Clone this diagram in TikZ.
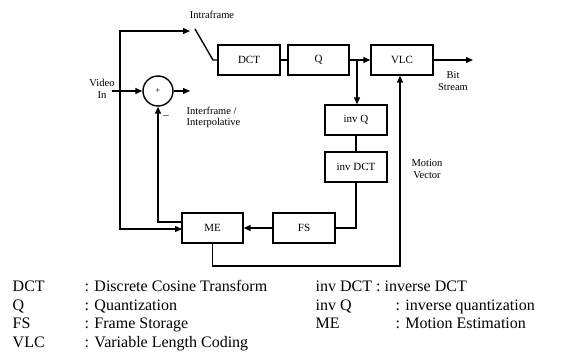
\documentclass[tikz,border=0pt]{standalone}
\usepackage{fontspec}
\setmainfont{Liberation Serif}
\usetikzlibrary{arrows.meta}
\begin{document}
\begin{tikzpicture}[x=1pt,y=-1pt, line width=1.4pt,
  blk/.style={draw, minimum width=62pt, minimum height=30pt, inner sep=0pt, font=\fontsize{11}{12}\selectfont},
  arr/.style={-{Triangle[length=7pt,width=6pt]}},
  lbl/.style={font=\fontsize{10.5}{11.5}\selectfont, align=center, inner sep=0pt},
  leg/.style={font=\fontsize{16}{18}\selectfont, anchor=base west, inner sep=0pt}]
\useasboundingbox (0,0) rectangle (568,358);
% blocks
\node[blk] (dct) at (249,60) {DCT};
\node[blk, minimum width=61pt] (q) at (318.5,60) {Q};
\node[blk] (vlc) at (402,60) {VLC};
\node[blk] (iq) at (356,120) {inv Q};
\node[blk] (idct) at (356,167) {inv DCT};
\node[blk] (fs) at (304,228) {FS};
\node[blk, minimum width=61pt] (me) at (212.5,228) {ME};
\node[circle, draw, minimum size=30pt, inner sep=0pt, font=\fontsize{9}{10}\selectfont] (sum) at (158,91) {+};
% coordinates
\coordinate (jn) at (120,91);
\coordinate (tip) at (190,31);
\coordinate (sw1) at (195,29);
\coordinate (sw2) at (213,60);
\coordinate (vin) at (112,91);
\coordinate (sout) at (190,91);
\coordinate (br) at (357,60);
\coordinate (bs) at (473,60);
\coordinate (mvb) at (400,266);
\coordinate (fb) at (158,222);
\coordinate (inme) at (182,229);
% connectors
\draw[arr] (jn) |- (tip);
\draw[arr] (jn) |- (inme);
\draw[arr] (vin) -- (sum.west);
\draw[arr] (sum.east) -- (sout);
\draw (sw1) -- (sw2) -- (dct.west);
\draw (dct) -- (q);
\draw[arr] (q) -- (vlc);
\draw[arr] (br) -- (br |- iq.north);
\draw (iq) -- (idct);
\draw (idct.south) |- (fs.east);
\draw[arr] (fs) -- (me);
\draw[arr] (me.west |- fb) -| (sum.south);
\draw[arr] (me.south) |- (mvb) -- (mvb |- vlc.south);
\draw[arr] (vlc) -- (bs);
% labels
\node[lbl] (lintra) at (212,15) {Intraframe};
\node[lbl] (lvin) at (102,89) {Video\\In};
\node[lbl, anchor=north west, align=left] (linter) at (186,106) {Interframe /\\Interpolative};
\node[lbl, font=\fontsize{11}{11}\selectfont] (lminus) at (166,117) {--};
\node[lbl] (lbit) at (453,81) {Bit\\Stream};
\node[lbl] (lmv) at (427,169) {Motion\\Vector};
% legend
\node[leg] (k1) at (12,291) {DCT};
\node[leg] (v1) at (84,291) {: Discrete Cosine Transform};
\node[leg] (k2) at (12,310) {Q};
\node[leg] (v2) at (84,310) {: Quantization};
\node[leg] (k3) at (12,329) {FS};
\node[leg] (v3) at (84,329) {: Frame Storage};
\node[leg] (k4) at (12,348) {VLC};
\node[leg] (v4) at (84,348) {: Variable Length Coding};
\node[leg] (k5) at (315,291) {inv DCT : inverse DCT};
\node[leg] (k6) at (315,310) {inv Q};
\node[leg] (v6) at (395,310) {: inverse quantization};
\node[leg] (k7) at (315,329) {ME};
\node[leg] (v7) at (395,329) {: Motion Estimation};
\end{tikzpicture}
\end{document}
